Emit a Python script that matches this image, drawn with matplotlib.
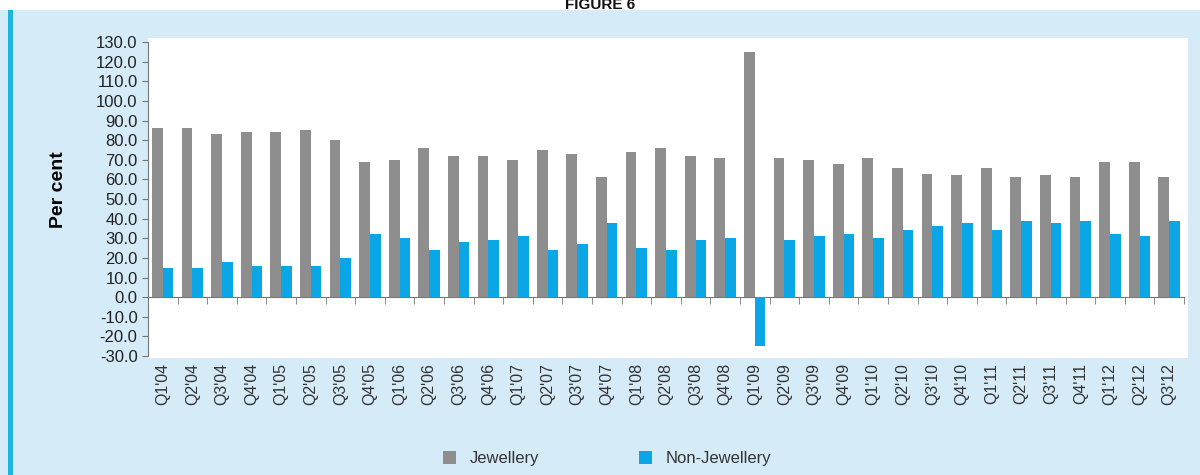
import numpy as np
import matplotlib
matplotlib.use('Agg')
import matplotlib.pyplot as plt
from matplotlib.patches import Rectangle

plt.rcParams['font.family'] = ['Liberation Sans Narrow', 'Liberation Sans', 'DejaVu Sans']
plt.rcParams['axes.unicode_minus'] = False

# Datos
quarters = ["Q1'04", "Q2'04", "Q3'04", "Q4'04", "Q1'05", "Q2'05", "Q3'05", "Q4'05",
            "Q1'06", "Q2'06", "Q3'06", "Q4'06", "Q1'07", "Q2'07", "Q3'07", "Q4'07",
            "Q1'08", "Q2'08", "Q3'08", "Q4'08", "Q1'09", "Q2'09", "Q3'09", "Q4'09",
            "Q1'10", "Q2'10", "Q3'10", "Q4'10", "Q1'11", "Q2'11", "Q3'11", "Q4'11",
            "Q1'12", "Q2'12", "Q3'12"]
jewellery = [86, 86, 83, 84, 84, 85, 80, 69, 70, 76, 72, 72, 70, 75, 73, 61,
             74, 76, 72, 71, 125, 71, 70, 68, 71, 66, 63, 62, 66, 61, 62, 61,
             69, 69, 61]
non_jewellery = [15, 15, 18, 16, 16, 16, 20, 32, 30, 24, 28, 29, 31, 24, 27, 38,
                 25, 24, 29, 30, -25, 29, 31, 32, 30, 34, 36, 38, 34, 39, 38, 39,
                 32, 31, 39]
y_ticks = np.arange(-30, 131, 10)

gray = '#8e8e8e'
blue = '#0aa6e6'
bg = '#d6ebf8'

fig = plt.figure(figsize=(12, 4.75), dpi=100)

# Fondo azul claro y borde izquierdo
fig.patches.append(Rectangle((0, 0), 1, 0.979, transform=fig.transFigure,
                             facecolor=bg, edgecolor='none', zorder=-10))
fig.patches.append(Rectangle((0.007, 0), 0.004, 0.979, transform=fig.transFigure,
                             facecolor='#1fb5e3', edgecolor='none', zorder=-9))
# Area blanca del grafico
fig.patches.append(Rectangle((0.1233, 0.246), 0.8667, 0.674, transform=fig.transFigure,
                             facecolor='white', edgecolor='none', zorder=-8))

ax = fig.add_axes((0.1233, 0.2505, 0.8633, 0.661))
ax.set_facecolor('none')

x = np.arange(len(quarters))
w = 0.36
ax.bar(x - w / 2, jewellery, w, color=gray, label='Jewellery', zorder=3)
ax.bar(x + w / 2, non_jewellery, w, color=blue, label='Non-Jewellery', zorder=3)

ax.set_xlim(-0.5, len(quarters) - 0.5)
ax.set_ylim(-30, 130)

# Ejes
for s in ['top', 'right']:
    ax.spines[s].set_visible(False)
ax.spines['left'].set_color('#777777')
ax.spines['bottom'].set_position(('data', 0))
ax.spines['bottom'].set_color('#777777')

ax.set_yticks(y_ticks)
ax.set_yticklabels(['%.1f' % v for v in y_ticks], fontsize=12)
ax.tick_params(axis='y', colors='#777777', labelcolor='#222222', length=4)

ax.set_xticks(x)
ax.set_xticks(x + 0.5, minor=True)
ax.tick_params(axis='x', which='major', length=0, labelbottom=False)
ax.tick_params(axis='x', which='minor', length=5, colors='#777777')

# Etiquetas del eje x debajo del area
for i, q in enumerate(quarters):
    ax.text(i, -33.5, q, rotation=90, ha='center', va='top', fontsize=11.5,
            color='#333333')

ax.set_ylabel('Per cent', fontsize=14, fontweight='bold')
ax.yaxis.set_label_coords(-0.078, 0.53)

ax.legend(loc='upper center', bbox_to_anchor=(0.443, -0.255), ncol=2, frameon=False,
          fontsize=12, handlelength=0.8, handleheight=0.8, columnspacing=6,
          labelcolor='#333333')

fig.text(0.5, 0.99, 'FIGURE 6', ha='center', va='center', fontsize=11,
         fontweight='bold', color='#111111')

fig.savefig('out.png', dpi=100)
